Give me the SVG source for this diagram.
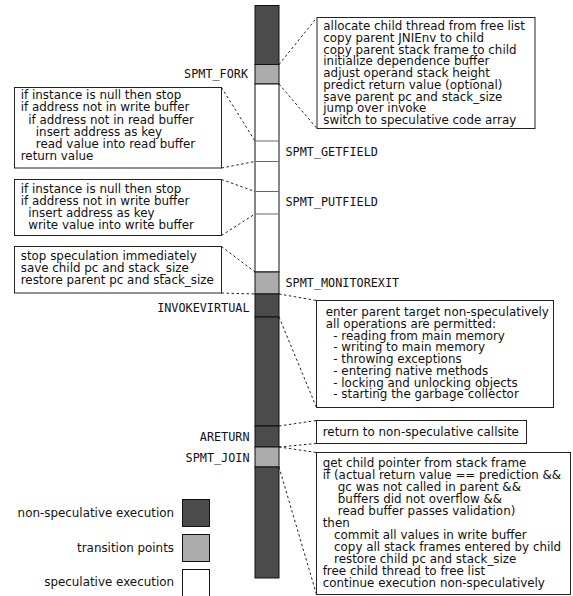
<svg xmlns="http://www.w3.org/2000/svg" width="573" height="596" viewBox="0 0 573 596">
<style>
.t{font-family:"DejaVu Sans","Liberation Sans",sans-serif;font-size:11.9px;fill:#111}
.m{font-family:"DejaVu Sans Mono","Liberation Mono",monospace;font-size:11.8px;fill:#111}
.box{fill:#fff;stroke:#222;stroke-width:1}
.dk{fill:#4b4b4b;stroke:#111;stroke-width:1}
.gr{fill:#acacac;stroke:#111;stroke-width:1}
.wh{fill:#fff;stroke:#111;stroke-width:1}
.sep{stroke:#666;stroke-width:1}
.c{fill:none;stroke:#222;stroke-width:1;stroke-dasharray:2.5,2.5}
</style>
<rect width="573" height="596" fill="#fff"/>

<g id="bar">
<rect class="dk" x="255" y="5.5" width="24" height="59"/>
<rect class="gr" x="255" y="64.5" width="24" height="19.5"/>
<rect class="wh" x="255" y="84" width="24" height="188"/>
<line class="sep" x1="255.5" y1="141" x2="278.5" y2="141"/>
<line class="sep" x1="255.5" y1="161.5" x2="278.5" y2="161.5"/>
<line class="sep" x1="255.5" y1="191.5" x2="278.5" y2="191.5"/>
<line class="sep" x1="255.5" y1="214" x2="278.5" y2="214"/>
<rect class="gr" x="255" y="272" width="24" height="22"/>
<rect class="dk" x="255" y="294" width="24" height="23"/>
<rect class="dk" x="255" y="317" width="24" height="109"/>
<rect class="dk" x="255" y="426" width="24" height="21"/>
<rect class="gr" x="255" y="447" width="24" height="20"/>
<rect class="dk" x="255" y="467" width="24" height="111"/>
</g>

<g id="labels">
<text class="m" x="248" y="78" text-anchor="end">SPMT_FORK</text>
<text class="m" x="285.5" y="156">SPMT_GETFIELD</text>
<text class="m" x="285.5" y="206">SPMT_PUTFIELD</text>
<text class="m" x="285.5" y="286.5">SPMT_MONITOREXIT</text>
<text class="m" x="249.5" y="312" text-anchor="end">INVOKEVIRTUAL</text>
<text class="m" x="249.5" y="441" text-anchor="end">ARETURN</text>
<text class="m" x="249.5" y="461.5" text-anchor="end">SPMT_JOIN</text>
</g>

<g id="connectors">
<line class="c" x1="279" y1="64.5" x2="317" y2="17.5"/>
<line class="c" x1="279" y1="84" x2="317" y2="128.5"/>
<line class="c" x1="221.5" y1="87.5" x2="255" y2="141"/>
<line class="c" x1="221.5" y1="168" x2="255" y2="161.5"/>
<line class="c" x1="221.5" y1="179.5" x2="255" y2="191.5"/>
<line class="c" x1="221.5" y1="235.5" x2="255" y2="214"/>
<line class="c" x1="221.5" y1="246.5" x2="255" y2="272"/>
<line class="c" x1="221.5" y1="293" x2="255" y2="294"/>
<line class="c" x1="279" y1="294" x2="316.5" y2="300.5"/>
<line class="c" x1="279" y1="317" x2="316.5" y2="407.5"/>
<line class="c" x1="279" y1="426" x2="316.5" y2="420.5"/>
<line class="c" x1="279" y1="447" x2="316.5" y2="443.5"/>
<line class="c" x1="279" y1="447" x2="316.5" y2="452.5"/>
<line class="c" x1="279" y1="467" x2="316.5" y2="594.5"/>
</g>

<g id="fork-box">
<rect class="box" x="317" y="17.5" width="218" height="111"/>
<text class="t" x="323.3" y="30">allocate child thread from free list</text>
<text class="t" x="323.3" y="41.75">copy parent JNIEnv to child</text>
<text class="t" x="323.3" y="53.5">copy parent stack frame to child</text>
<text class="t" x="323.3" y="65.25">initialize dependence buffer</text>
<text class="t" x="323.3" y="77">adjust operand stack height</text>
<text class="t" x="323.3" y="88.75">predict return value (optional)</text>
<text class="t" x="323.3" y="100.5">save parent pc and stack_size</text>
<text class="t" x="323.3" y="112.25">jump over invoke</text>
<text class="t" x="323.3" y="124">switch to speculative code array</text>
</g>

<g id="getfield-box">
<rect class="box" x="14.5" y="87.5" width="207" height="80.5"/>
<text class="t" x="20.7" y="99.3" xml:space="preserve">if instance is null then stop</text>
<text class="t" x="20.7" y="111.4" xml:space="preserve">if address not in write buffer</text>
<text class="t" x="20.7" y="123.5" xml:space="preserve">  if address not in read buffer</text>
<text class="t" x="20.7" y="135.6" xml:space="preserve">    insert address as key</text>
<text class="t" x="20.7" y="147.7" xml:space="preserve">    read value into read buffer</text>
<text class="t" x="20.7" y="159.8" xml:space="preserve">return value</text>
</g>

<g id="putfield-box">
<rect class="box" x="14.5" y="179.5" width="207" height="56"/>
<text class="t" x="20.7" y="193.3" xml:space="preserve">if instance is null then stop</text>
<text class="t" x="20.7" y="205.3" xml:space="preserve">if address not in write buffer</text>
<text class="t" x="20.7" y="217.3" xml:space="preserve">  insert address as key</text>
<text class="t" x="20.7" y="229.3" xml:space="preserve">  write value into write buffer</text>
</g>

<g id="monitorexit-box">
<rect class="box" x="14.5" y="246.5" width="207" height="46.5"/>
<text class="t" x="20.7" y="260.3">stop speculation immediately</text>
<text class="t" x="20.7" y="272.3">save child pc and stack_size</text>
<text class="t" x="20.7" y="284.3">restore parent pc and stack_size</text>
</g>

<g id="invokevirtual-box">
<rect class="box" x="316.5" y="300.5" width="237" height="107"/>
<text class="t" x="325.7" y="316" xml:space="preserve">enter parent target non-speculatively</text>
<text class="t" x="325.7" y="327.8" xml:space="preserve">all operations are permitted:</text>
<text class="t" x="325.7" y="339.5" xml:space="preserve">  - reading from main memory</text>
<text class="t" x="325.7" y="351.3" xml:space="preserve">  - writing to main memory</text>
<text class="t" x="325.7" y="363" xml:space="preserve">  - throwing exceptions</text>
<text class="t" x="325.7" y="374.8" xml:space="preserve">  - entering native methods</text>
<text class="t" x="325.7" y="386.5" xml:space="preserve">  - locking and unlocking objects</text>
<text class="t" x="325.7" y="398.3" xml:space="preserve">  - starting the garbage collector</text>
</g>

<g id="areturn-box">
<rect class="box" x="316.5" y="420.5" width="210" height="23"/>
<text class="t" x="322.7" y="435.5">return to non-speculative callsite</text>
</g>

<g id="join-box">
<rect class="box" x="316.5" y="452.5" width="254" height="142"/>
<text class="t" x="322.7" y="466.5" xml:space="preserve">get child pointer from stack frame</text>
<text class="t" x="322.7" y="478.5" xml:space="preserve">if (actual return value == prediction &amp;&amp;</text>
<text class="t" x="322.7" y="490.5" xml:space="preserve">    gc was not called in parent &amp;&amp;</text>
<text class="t" x="322.7" y="502.5" xml:space="preserve">    buffers did not overflow &amp;&amp;</text>
<text class="t" x="322.7" y="514.5" xml:space="preserve">    read buffer passes validation)</text>
<text class="t" x="322.7" y="526.5" xml:space="preserve">then</text>
<text class="t" x="322.7" y="538.5" xml:space="preserve">   commit all values in write buffer</text>
<text class="t" x="322.7" y="550.5" xml:space="preserve">   copy all stack frames entered by child</text>
<text class="t" x="322.7" y="562.5" xml:space="preserve">   restore child pc and stack_size</text>
<text class="t" x="322.7" y="574.5" xml:space="preserve">free child thread to free list</text>
<text class="t" x="322.7" y="586.5" xml:space="preserve">continue execution non-speculatively</text>
</g>

<g id="legend">
<rect class="dk" x="182.5" y="499.5" width="27" height="27"/>
<text class="t" x="174" y="516.5" text-anchor="end">non-speculative execution</text>
<rect class="gr" x="182.5" y="534.5" width="27" height="27"/>
<text class="t" x="174" y="551.5" text-anchor="end">transition points</text>
<rect class="wh" x="182.5" y="569.5" width="27" height="28"/>
<text class="t" x="174" y="586" text-anchor="end">speculative execution</text>
</g>
</svg>
